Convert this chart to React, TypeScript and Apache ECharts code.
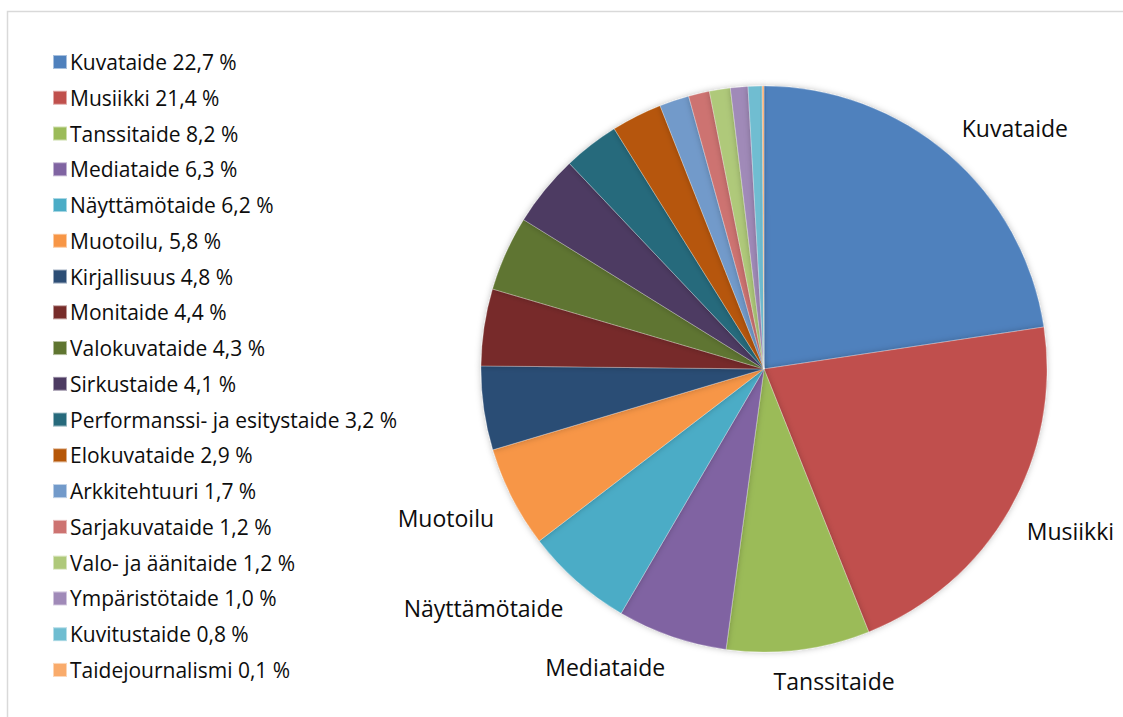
import React, { useEffect, useRef } from "react";
import * as echarts from "echarts";

const categories = [
  "Kuvataide",
  "Musiikki",
  "Tanssitaide",
  "Mediataide",
  "Näyttämötaide",
  "Muotoilu",
  "Kirjallisuus",
  "Monitaide",
  "Valokuvataide",
  "Sirkustaide",
  "Performanssi- ja esitystaide",
  "Elokuvataide",
  "Arkkitehtuuri",
  "Sarjakuvataide",
  "Valo- ja äänitaide",
  "Ympäristötaide",
  "Kuvitustaide",
  "Taidejournalismi",
];

const values = [22.7, 21.4, 8.2, 6.3, 6.2, 5.8, 4.8, 4.4, 4.3, 4.1, 3.2, 2.9, 1.7, 1.2, 1.2, 1.0, 0.8, 0.1];

const colors = [
  "#4F81BD",
  "#C0504D",
  "#9BBB59",
  "#8064A2",
  "#4BACC6",
  "#F79646",
  "#2C4D75",
  "#772C2A",
  "#5F7530",
  "#4D3B62",
  "#276A7C",
  "#B65708",
  "#729ACA",
  "#CD7371",
  "#AFC97A",
  "#A08AB8",
  "#6FBDD1",
  "#F9AB6B",
];

// Legend entries that carry a comma after the name in the original
const legendCommaAfter = ["Muotoilu"];
const labeledCount = 6;

const CX = 764;
const CY = 369;
const RADIUS = 283;

export default function App() {
  const ref = useRef<HTMLDivElement>(null);

  useEffect(() => {
    if (!ref.current) return;
    const chart = echarts.init(ref.current, null, { renderer: "svg" });
    const total = values.reduce((a, b) => a + b, 0);
    const cumBefore: number[] = [];
    let acc = 0;
    values.forEach((v) => {
      cumBefore.push(acc);
      acc += v;
    });
    const fmt = (v: number) => v.toFixed(1).replace(".", ",");
    const legendText: Record<string, string> = {};
    categories.forEach((c, i) => {
      legendText[c] = c + (legendCommaAfter.includes(c) ? "," : "") + " " + fmt(values[i]) + " %";
    });

    const clampK = (t: number) => Math.max(-1, Math.min(1, t * 4.5));

    chart.setOption({
      animation: false,
      backgroundColor: "#ffffff",
      color: colors,
      graphic: [
        {
          type: "rect",
          shape: { x: 7.5, y: 11.5, width: 1300, height: 900 },
          style: { fill: "none", stroke: "#d9d9d9", lineWidth: 1.5 },
          silent: true,
          z: -1,
        },
      ],
      legend: {
        orient: "vertical",
        left: 52,
        top: 51.5,
        padding: 0,
        icon: "rect",
        itemWidth: 14,
        itemHeight: 14,
        itemGap: 14.76,
        selectedMode: false,
        data: categories,
        formatter: (name: string) => legendText[name] || name,
        textStyle: {
          fontFamily: "Open Sans",
          fontSize: 21,
          lineHeight: 21,
          color: "#0d0d0d",
          padding: [0, 0, 0, -2],
        },
      },
      series: [
        {
          type: "pie",
          center: [CX, CY],
          radius: RADIUS,
          startAngle: 90,
          clockwise: true,
          avoidLabelOverlap: false,
          itemStyle: {
            borderColor: "rgba(255,255,255,0.5)",
            borderWidth: 0.5,
            shadowBlur: 6,
            shadowColor: "rgba(0,0,0,0.25)",
          },
          emphasis: { disabled: true },
          labelLine: { show: false },
          label: {
            position: "outside",
            formatter: "{b}",
            fontFamily: "Open Sans",
            fontSize: 23,
            color: "#0d0d0d",
          },
          labelLayout: (p: any) => {
            const i = p.dataIndex;
            const mid = ((cumBefore[i] + values[i] / 2) / total) * Math.PI * 2;
            const s = Math.sin(mid);
            const c = Math.cos(mid);
            const R = RADIUS + 20;
            const px = CX + R * s;
            const py = CY - R * c;
            const w = p.labelRect.width;
            const h = p.labelRect.height;
            return {
              x: px + (w / 2) * clampK(s),
              y: py - (h / 2) * clampK(c),
              align: "center",
              verticalAlign: "middle",
            };
          },
          data: categories.map((name, i) => ({
            name,
            value: values[i],
            label: { show: i < labeledCount },
          })),
        },
      ],
    });
    return () => chart.dispose();
  }, []);

  return (
    <div
      ref={ref}
      style={{ position: "absolute", left: 0, top: 0, width: 1123, height: 717 }}
    />
  );
}
